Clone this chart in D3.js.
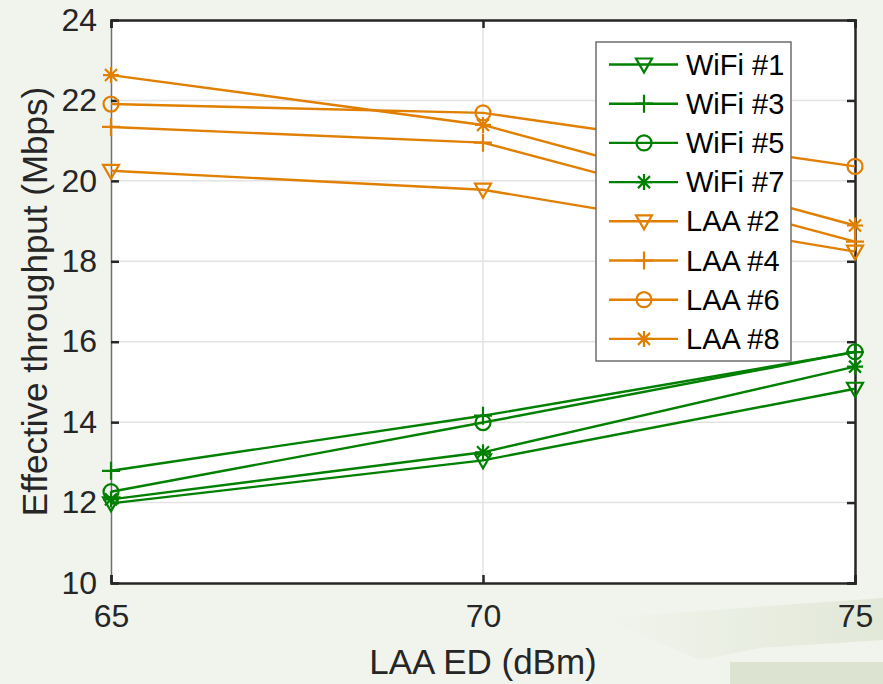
<!DOCTYPE html>
<html>
<head>
<meta charset="utf-8">
<script src="https://cdn.jsdelivr.net/npm/d3@7"></script>
<style>
  body { margin: 0; background: #f1f4ec; }
  svg { display: block; font-family: "Liberation Sans", Arial, sans-serif; }
</style>
</head>
<body>
<script>
const width = 883;
const height = 684;

// data
const edLevels = [65, 70, 75];
const seriesNames = ["WiFi #1", "WiFi #3", "WiFi #5", "WiFi #7", "LAA #2", "LAA #4", "LAA #6", "LAA #8"];
const wifi1 = [11.98, 13.05, 14.83];
const wifi3 = [12.79, 14.16, 15.74];
const wifi5 = [12.27, 13.99, 15.75];
const wifi7 = [12.08, 13.25, 15.38];
const laa2 = [20.25, 19.78, 18.24];
const laa4 = [21.34, 20.95, 18.49];
const laa6 = [21.91, 21.69, 20.36];
const laa8 = [22.63, 21.39, 18.89];
const yTicks = [10, 12, 14, 16, 18, 20, 22, 24];

const green = "#008000";
const orange = "#e07f00";
const fontFamily = "'Liberation Sans', Arial, sans-serif";

let series = [
    { name: seriesNames[0], values: wifi1, color: green, marker: "tri" },
    { name: seriesNames[1], values: wifi3, color: green, marker: "plus" },
    { name: seriesNames[2], values: wifi5, color: green, marker: "circle" },
    { name: seriesNames[3], values: wifi7, color: green, marker: "star" },
    { name: seriesNames[4], values: laa2, color: orange, marker: "tri" },
    { name: seriesNames[5], values: laa4, color: orange, marker: "plus" },
    { name: seriesNames[6], values: laa6, color: orange, marker: "circle" },
    { name: seriesNames[7], values: laa8, color: orange, marker: "star" }
];

let margin = { top: 20, right: 28, bottom: 101, left: 111 };

let svg = d3.select("body")
    .append("svg")
    .attr("width", width)
    .attr("height", height);

// faint background decoration (bottom right)
let defs = svg.append("defs");
let grad = defs.append("linearGradient").attr("id", "streak").attr("x1", 0).attr("x2", 1);
grad.append("stop").attr("offset", 0).attr("stop-color", "#f1f4ec");
grad.append("stop").attr("offset", 1).attr("stop-color", "#e2e8d8");
svg.append("path")
    .attr("d", "M600,618 L883,598 L883,640 L760,648 L700,660 Z")
    .attr("fill", "url(#streak)");
svg.append("rect")
    .attr("x", 730).attr("y", 662).attr("width", 153).attr("height", 22)
    .attr("fill", "#dde3d1");

let xScale = d3.scaleLinear()
    .domain([65, 75])
    .range([margin.left, width - margin.right]);

let yScale = d3.scaleLinear()
    .domain([10, 24])
    .range([height - margin.bottom, margin.top]);

// plot area
svg.append("rect")
    .attr("x", margin.left)
    .attr("y", margin.top)
    .attr("width", xScale(75) - xScale(65))
    .attr("height", yScale(10) - yScale(24))
    .attr("fill", "white");

// grid
let grid = svg.append("g").attr("stroke", "#e3e3e3").attr("stroke-width", 1.5);
grid.selectAll(".gy")
    .data(yTicks.slice(1, -1))
    .join("line")
    .attr("x1", margin.left).attr("x2", xScale(75))
    .attr("y1", d => yScale(d)).attr("y2", d => yScale(d));
grid.selectAll(".gx")
    .data(edLevels.slice(1, -1))
    .join("line")
    .attr("y1", margin.top).attr("y2", yScale(10))
    .attr("x1", d => xScale(d)).attr("x2", d => xScale(d));

// axes
let leftAxis = d3.axisLeft(yScale).tickValues(yTicks).tickSize(-8).tickPadding(14);
let rightAxis = d3.axisRight(yScale).tickValues(yTicks).tickSize(-8).tickFormat("");
let bottomAxis = d3.axisBottom(xScale).tickValues(edLevels).tickSize(-8).tickPadding(21).tickFormat(d3.format("d"));
let topAxis = d3.axisTop(xScale).tickValues(edLevels).tickSize(-8).tickFormat("");

function styleAxis(g) {
    g.attr("font-family", fontFamily).attr("font-size", 32);
    g.select(".domain").attr("stroke", "#262626").attr("stroke-width", 2.5);
    g.selectAll(".tick line").attr("stroke", "#262626").attr("stroke-width", 2.5);
    g.selectAll(".tick text").attr("fill", "#262626");
}

svg.append("g").attr("transform", `translate(${margin.left},0)`).call(leftAxis).call(styleAxis)
    .select(".domain").attr("stroke", "#707070").attr("stroke-width", 1.5);
svg.append("g").attr("transform", `translate(${xScale(75)},0)`).call(rightAxis).call(styleAxis);
svg.append("g").attr("transform", `translate(0,${yScale(10)})`).call(bottomAxis).call(styleAxis);
svg.append("g").attr("transform", `translate(0,${margin.top})`).call(topAxis).call(styleAxis);

// axis titles
svg.append("text")
    .text("LAA ED (dBm)")
    .attr("x", xScale(70))
    .attr("y", 674)
    .attr("text-anchor", "middle")
    .attr("fill", "#262626")
    .style("font-size", "35px");

svg.append("text")
    .text("Effective throughput (Mbps)")
    .attr("text-anchor", "middle")
    .attr("fill", "#262626")
    .style("font-size", "35px")
    .attr("transform", `translate(47, ${(yScale(10) + yScale(24)) / 2}) rotate(-90)`);

function drawMarker(g, type, color) {
    if (type === "tri") {
        g.append("path").attr("d", "M-8,-6 L8,-6 L0,8 Z")
            .attr("fill", "none").attr("stroke", color).attr("stroke-width", 2.2);
    } else if (type === "plus") {
        g.append("path").attr("d", "M-9,0 L9,0 M0,-9 L0,9")
            .attr("stroke", color).attr("stroke-width", 2.2);
    } else if (type === "circle") {
        g.append("circle").attr("r", 7.5)
            .attr("fill", "none").attr("stroke", color).attr("stroke-width", 2.2);
    } else {
        g.append("path").attr("d", "M-8,0 L8,0 M0,-8 L0,8 M-6,-6 L6,6 M-6,6 L6,-6")
            .attr("stroke", color).attr("stroke-width", 2.2);
    }
}

let line = d3.line()
    .x((d, i) => xScale(edLevels[i]))
    .y(d => yScale(d));

let lines = svg.append("g");
series.forEach(s => {
    lines.append("path")
        .attr("d", line(s.values))
        .attr("fill", "none")
        .attr("stroke", s.color)
        .attr("stroke-width", 2.4);
    s.values.forEach((v, i) => {
        let m = lines.append("g").attr("transform", `translate(${xScale(edLevels[i])},${yScale(v)})`);
        drawMarker(m, s.marker, s.color);
    });
});

// legend
let legend = svg.append("g").attr("transform", "translate(596,42)");
legend.append("rect")
    .attr("width", 195)
    .attr("height", 319)
    .attr("fill", "white")
    .attr("stroke", "#6e6e6e")
    .attr("stroke-width", 1.5);

series.forEach((s, i) => {
    let row = legend.append("g").attr("transform", `translate(0,${22.5 + i * 39.2})`);
    row.append("line")
        .attr("x1", 13).attr("x2", 82)
        .attr("stroke", s.color).attr("stroke-width", 2.4);
    let m = row.append("g").attr("transform", "translate(48,0)");
    drawMarker(m, s.marker, s.color);
    row.append("text")
        .text(s.name)
        .attr("x", 90)
        .attr("y", 10)
        .attr("fill", "black")
        .style("font-size", "29px");
});
</script>
</body>
</html>
